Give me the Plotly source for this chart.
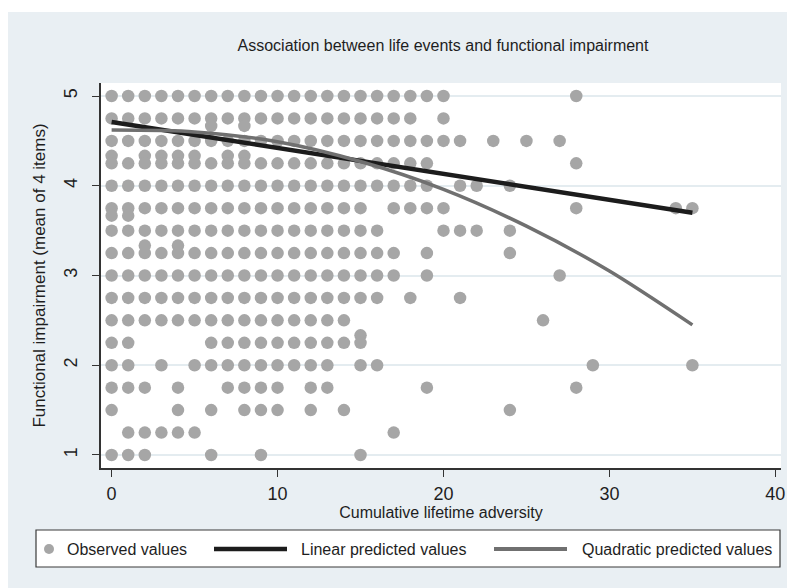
import plotly.graph_objects as go

title_text = "Association between life events and functional impairment"
x_title = "Cumulative lifetime adversity"
y_title = "Functional impairment (mean of 4 items)"
x_ticks = [0, 10, 20, 30, 40]
y_ticks = [1, 2, 3, 4, 5]
legend_labels = ["Observed values", "Linear predicted values", "Quadratic predicted values"]

# Observed adversity scores found at each impairment level
adv_at_5_00 = [0, 1, 2, 3, 4, 5, 6, 7, 8, 9, 10, 11, 12, 13, 14, 15, 16, 17, 18, 19, 20, 28]
adv_at_4_75 = [0, 1, 2, 3, 4, 5, 6, 7, 8, 9, 10, 11, 12, 13, 14, 15, 16, 17, 18, 20]
adv_at_4_67 = [6, 8]
adv_at_4_50 = [0, 1, 2, 3, 4, 5, 6, 7, 8, 9, 10, 11, 12, 13, 14, 15, 16, 17, 18, 19, 20, 21, 23, 25, 27]
adv_at_4_33 = [0, 2, 3, 4, 5, 7, 8]
adv_at_4_25 = [0, 1, 2, 3, 4, 5, 6, 7, 8, 9, 10, 11, 12, 13, 14, 15, 16, 17, 18, 19, 28]
adv_at_4_00 = [0, 1, 2, 3, 4, 5, 6, 7, 8, 9, 10, 11, 12, 13, 14, 15, 16, 17, 18, 19, 21, 22, 24]
adv_at_3_75 = [0, 1, 2, 3, 4, 5, 6, 7, 8, 9, 10, 11, 12, 13, 14, 15, 17, 18, 19, 20, 28, 34, 35]
adv_at_3_67 = [0, 1]
adv_at_3_50 = [0, 1, 2, 3, 4, 5, 6, 7, 8, 9, 10, 11, 12, 13, 14, 15, 16, 20, 21, 22, 24]
adv_at_3_33 = [2, 4]
adv_at_3_25 = [0, 1, 2, 3, 4, 5, 6, 7, 8, 9, 10, 11, 12, 13, 14, 15, 16, 17, 19, 24]
adv_at_3_00 = [0, 1, 2, 3, 4, 5, 6, 7, 8, 9, 10, 11, 12, 13, 14, 15, 16, 17, 19, 27]
adv_at_2_75 = [0, 1, 2, 3, 4, 5, 6, 7, 8, 9, 10, 11, 12, 13, 14, 15, 16, 18, 21]
adv_at_2_50 = [0, 1, 2, 3, 4, 5, 6, 7, 8, 9, 10, 11, 12, 13, 14, 26]
adv_at_2_33 = [15]
adv_at_2_25 = [0, 1, 6, 7, 8, 9, 10, 11, 12, 13, 14, 15]
adv_at_2_00 = [0, 1, 3, 5, 6, 7, 8, 9, 10, 11, 12, 13, 15, 16, 29, 35]
adv_at_1_75 = [0, 1, 2, 4, 7, 8, 9, 10, 12, 13, 19, 28]
adv_at_1_50 = [0, 4, 6, 8, 9, 10, 12, 14, 24]
adv_at_1_25 = [1, 2, 3, 4, 5, 17]
adv_at_1_00 = [0, 1, 2, 6, 9, 15]

impairment_levels = [5.0, 4.75, 4.667, 4.5, 4.333, 4.25, 4.0, 3.75, 3.667, 3.5, 3.333,
                     3.25, 3.0, 2.75, 2.5, 2.333, 2.25, 2.0, 1.75, 1.5, 1.25, 1.0]
adversity_by_level = [adv_at_5_00, adv_at_4_75, adv_at_4_67, adv_at_4_50, adv_at_4_33,
                      adv_at_4_25, adv_at_4_00, adv_at_3_75, adv_at_3_67, adv_at_3_50,
                      adv_at_3_33, adv_at_3_25, adv_at_3_00, adv_at_2_75, adv_at_2_50,
                      adv_at_2_33, adv_at_2_25, adv_at_2_00, adv_at_1_75, adv_at_1_50,
                      adv_at_1_25, adv_at_1_00]

# Fitted values
linear_x = [0, 35]
linear_y = [4.71, 3.70]
quad_x = [0, 5, 10, 15, 20, 25, 30, 35]
quad_y = [4.62, 4.60, 4.49, 4.27, 3.96, 3.55, 3.05, 2.45]

obs_x, obs_y = [], []
for level, xs in zip(impairment_levels, adversity_by_level):
    obs_x.extend(xs)
    obs_y.extend([level] * len(xs))

font_family = "Liberation Sans, Arial, sans-serif"
bg = "#e9eff3"
dot_color = "#a6a6a6"
lin_color = "#1c1c1c"
quad_color = "#707070"
text_color = "#1e1e1e"

W, H = 795, 588
ML, MR, MT, MB = 93, 22, 75, 128
PW, PH = W - ML - MR, H - MT - MB


def px(fx):
    return (fx - ML) / PW


def py(fy):
    return (H - MB - fy) / PH


fig = go.Figure()
fig.add_trace(go.Scatter(
    x=obs_x, y=obs_y, mode="markers", name=legend_labels[0], showlegend=False,
    marker=dict(size=12.5, color=dot_color, line=dict(width=0)),
))
fig.add_trace(go.Scatter(
    x=linear_x, y=linear_y, mode="lines", name=legend_labels[1], showlegend=False,
    line=dict(color=lin_color, width=4.5),
))
fig.add_trace(go.Scatter(
    x=quad_x, y=quad_y, mode="lines", name=legend_labels[2], showlegend=False,
    line=dict(color=quad_color, width=3.5, shape="spline", smoothing=0.8),
))

# Legend drawn as a framed key below the plot (Stata style)
leg_y = 541
shapes = [
    dict(type="rect", xref="paper", yref="paper", x0=px(28), x1=px(772),
         y0=py(559), y1=py(522), fillcolor="white",
         line=dict(color="#3a3a3a", width=1.2), layer="above"),
    dict(type="circle", xref="paper", yref="paper", x0=px(36), x1=px(46),
         y0=py(leg_y + 5), y1=py(leg_y - 5), fillcolor=dot_color,
         line=dict(width=0), layer="above"),
    dict(type="line", xref="paper", yref="paper", x0=px(206), x1=px(279),
         y0=py(leg_y), y1=py(leg_y), line=dict(color=lin_color, width=4.5), layer="above"),
    dict(type="line", xref="paper", yref="paper", x0=px(486), x1=px(559),
         y0=py(leg_y), y1=py(leg_y), line=dict(color=quad_color, width=4), layer="above"),
    # thin white strip at the very top (page edge)
    dict(type="rect", xref="paper", yref="paper", x0=-0.3, x1=1.2,
         y0=py(4), y1=py(-10), fillcolor="white", line=dict(width=0), layer="above"),
]
annotations = [
    dict(text=legend_labels[0], xref="paper", yref="paper", x=px(57), y=py(leg_y),
         xanchor="left", yanchor="middle", showarrow=False, font=dict(size=16, color=text_color)),
    dict(text=legend_labels[1], xref="paper", yref="paper", x=px(291), y=py(leg_y),
         xanchor="left", yanchor="middle", showarrow=False, font=dict(size=16, color=text_color)),
    dict(text=legend_labels[2], xref="paper", yref="paper", x=px(572), y=py(leg_y),
         xanchor="left", yanchor="middle", showarrow=False, font=dict(size=16, color=text_color)),
]

fig.update_layout(
    width=W, height=H,
    margin=dict(l=ML, r=MR, t=MT, b=MB),
    paper_bgcolor=bg, plot_bgcolor="white",
    font=dict(family=font_family, color=text_color),
    title=dict(text=title_text, x=435 / W, xanchor="center", y=1 - 37 / H,
               yanchor="middle", font=dict(size=16, color=text_color)),
    showlegend=False,
    shapes=shapes,
    annotations=annotations,
)
fig.update_xaxes(
    range=[-0.64, 40.34], tickvals=x_ticks, ticks="outside", ticklen=7,
    tickcolor="#333333", showline=True, linecolor="#333333", linewidth=1.5,
    showgrid=False, zeroline=False, tickfont=dict(size=18, color=text_color),
    ticklabelstandoff=2,
    title=dict(text=x_title, font=dict(size=16, color=text_color), standoff=0),
)
fig.update_yaxes(
    range=[0.855, 5.145], tickvals=y_ticks, ticks="outside", ticklen=7,
    tickcolor="#333333", showline=True, linecolor="#333333", linewidth=1.5,
    showgrid=True, gridcolor="#e4ecf0", gridwidth=1.5, zeroline=False,
    tickangle=-90, tickfont=dict(size=18, color=text_color), ticklabelstandoff=8,
    title=dict(text=y_title, font=dict(size=17, color=text_color), standoff=11),
)

fig.write_html("out.html")
